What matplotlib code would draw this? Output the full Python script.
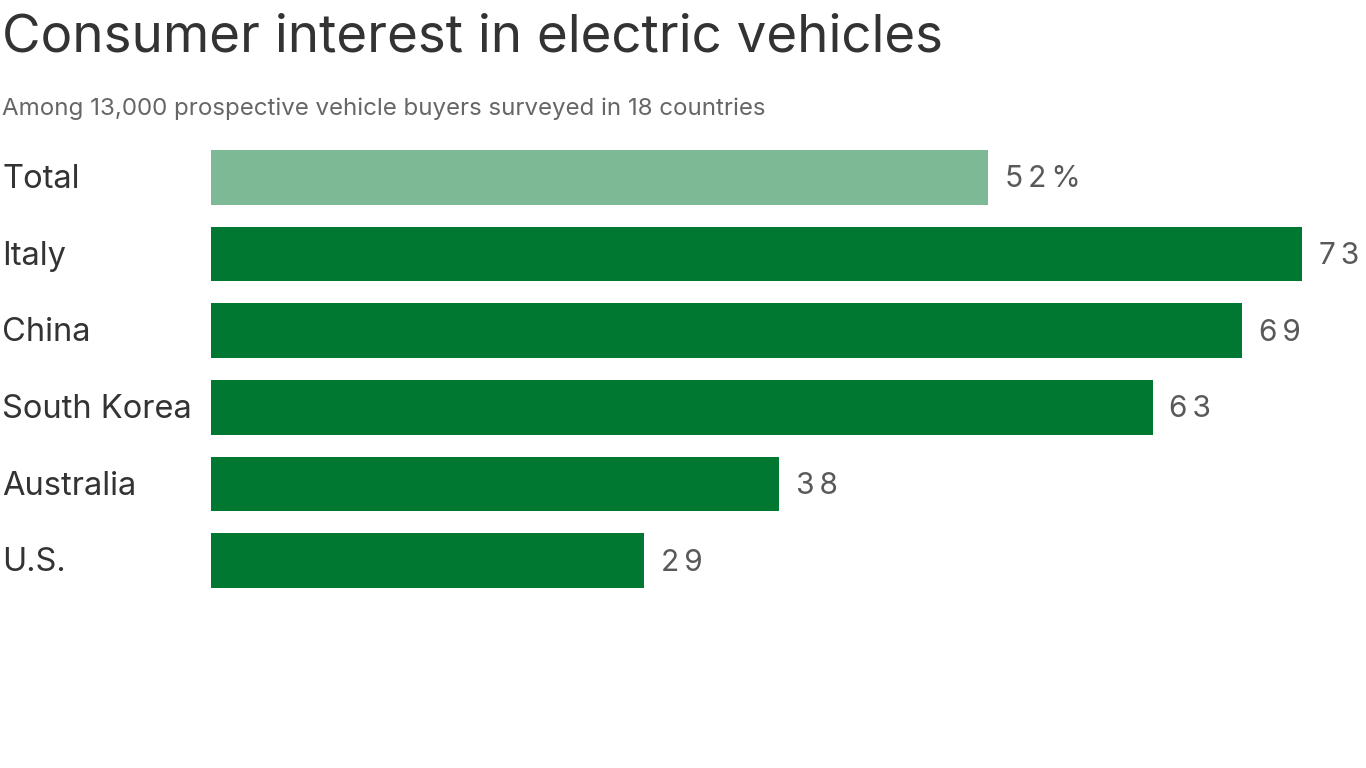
import matplotlib.pyplot as plt

plt.rcParams['font.family'] = ['Inter', 'DejaVu Sans']

# Данные
countries = ['Total', 'Italy', 'China', 'South Korea', 'Australia', 'U.S.']
values = [52, 73, 69, 63, 38, 29]
value_labels = ['52%', '73', '69', '63', '38', '29']
colors = ['#7db995'] + ['#007832'] * 5

W, H = 1366, 768
fig = plt.figure(figsize=(W / 100, H / 100), dpi=100)

# оси: x 0..73 -> 211..1302 px, центры строк 177..560 px
ax = fig.add_axes([211 / W, 1 - 599 / H, 1091 / W, 460 / H])
ypos = list(range(len(countries)))
ax.barh(ypos, values, height=0.71, color=colors)
ax.set_xlim(0, 73)
ax.set_ylim(5.5, -0.5)
ax.axis('off')

for y, v, lab in zip(ypos, values, value_labels):
    spaced = '\u2006'.join(lab)  # разрядка как в оригинале
    ax.annotate(spaced, xy=(v, y), xytext=(12, -1.5), textcoords='offset points',
                va='center', ha='left', fontsize=21.5, color='#595959')

# подписи стран слева
for y, name in zip(ypos, countries):
    ax.annotate(name, xy=(0, y), xytext=(-209 * 0.72, -1.5),
                textcoords='offset points', va='center', ha='left',
                fontsize=23.5, color='#333333', annotation_clip=False)

fig.text(2 / W, 1 - 38 / H, 'Consumer interest in electric vehicles',
         fontsize=38.1, color='#333333', va='center', ha='left')
fig.text(2 / W, 1 - 109 / H,
         'Among 13,000 prospective vehicle buyers surveyed in 18 countries',
         fontsize=17.35, color='#666666', va='center', ha='left')

fig.savefig('out.png', dpi=100)
